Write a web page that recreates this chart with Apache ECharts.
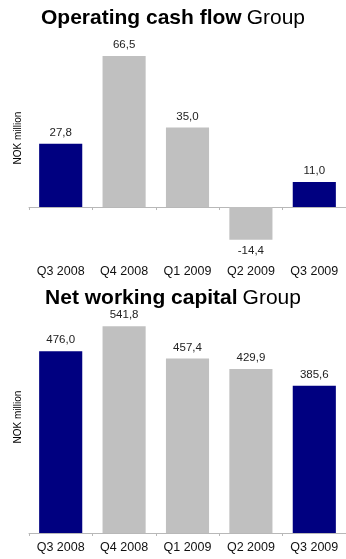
<!DOCTYPE html>
<html>
<head>
<meta charset="utf-8">
<script src="https://cdn.jsdelivr.net/npm/echarts@6/dist/echarts.min.js"></script>
<style>
  html, body { margin: 0; padding: 0; background: #fff; }
  #main { width: 346px; height: 559px; }
</style>
</head>
<body>
<div id="main"></div>
<script>
const quarters = ['Q3 2008', 'Q4 2008', 'Q1 2009', 'Q2 2009', 'Q3 2009'];
const cashFlow = [27.8, 66.5, 35.0, -14.4, 11.0];
const workingCapital = [476.0, 541.8, 457.4, 429.9, 385.6];
const barColors = ['#000080', '#c0c0c0', '#c0c0c0', '#c0c0c0', '#000080'];

const FONT = 'Arial, "Liberation Sans", sans-serif';

const chart = echarts.init(document.getElementById('main'));

function fmt(p) {
  return p.value.toFixed(1).replace('.', ',');
}

function toData(values) {
  return values.map((v, i) => ({
    value: v,
    itemStyle: { color: barColors[i] },
    label: { position: v < 0 ? 'bottom' : 'top' }
  }));
}

const labelStyle = {
  show: true,
  formatter: fmt,
  fontFamily: FONT,
  fontSize: 11.5,
  color: '#222',
  distance: 5
};

const titleRich = {
  b: { fontFamily: FONT, fontSize: 21, fontWeight: 'bold', color: '#000' },
  n: { fontFamily: FONT, fontSize: 21, fontWeight: 'normal', color: '#000' }
};

const catLabel = { fontFamily: FONT, fontSize: 12.5, color: '#111', margin: 8 };
const lineStyle = { color: '#b8b8b8', width: 1 };

const option = {
  animation: false,
  title: [
    {
      text: '{b|Operating cash flow} {n|Group}',
      left: 'center',
      top: 3,
      textStyle: { fontWeight: 'normal', rich: titleRich }
    },
    {
      text: '{b|Net working capital} {n|Group}',
      left: 'center',
      top: 283,
      textStyle: { fontWeight: 'normal', rich: titleRich }
    }
  ],
  graphic: [
    {
      type: 'text', x: 18, y: 138, rotation: Math.PI / 2,
      style: { text: 'NOK million', fontFamily: FONT, fontSize: 10, fill: '#000', align: 'center', verticalAlign: 'middle' }
    },
    {
      type: 'text', x: 18, y: 417, rotation: Math.PI / 2,
      style: { text: 'NOK million', fontFamily: FONT, fontSize: 10, fill: '#000', align: 'center', verticalAlign: 'middle' }
    }
  ],
  grid: [
    { left: 29, right: -7, top: 48, height: 209 },
    { left: 29, right: -7, top: 304, height: 229 }
  ],
  xAxis: [
    {
      gridIndex: 0, type: 'category', data: quarters, position: 'bottom',
      axisLine: { show: false, onZero: false }, axisTick: { show: false },
      axisLabel: catLabel
    },
    {
      gridIndex: 0, type: 'category', data: quarters, position: 'bottom',
      axisLine: { show: true, onZero: true, lineStyle: lineStyle },
      axisTick: { show: true, length: 3, lineStyle: lineStyle },
      axisLabel: { show: false }
    },
    {
      gridIndex: 1, type: 'category', data: quarters, position: 'bottom',
      axisLine: { show: true, lineStyle: lineStyle },
      axisTick: { show: true, length: 3, lineStyle: lineStyle },
      axisLabel: catLabel
    }
  ],
  yAxis: [
    { gridIndex: 0, type: 'value', min: -22, max: 70, show: false, splitLine: { show: false } },
    { gridIndex: 1, type: 'value', min: 0, max: 600, show: false, splitLine: { show: false } }
  ],
  series: [
    {
      type: 'bar', xAxisIndex: 0, yAxisIndex: 0,
      barCategoryGap: '32%',
      data: toData(cashFlow),
      label: labelStyle
    },
    {
      type: 'bar', xAxisIndex: 2, yAxisIndex: 1,
      barCategoryGap: '32%',
      data: toData(workingCapital),
      label: labelStyle
    }
  ]
};

chart.setOption(option);
</script>
</body>
</html>
